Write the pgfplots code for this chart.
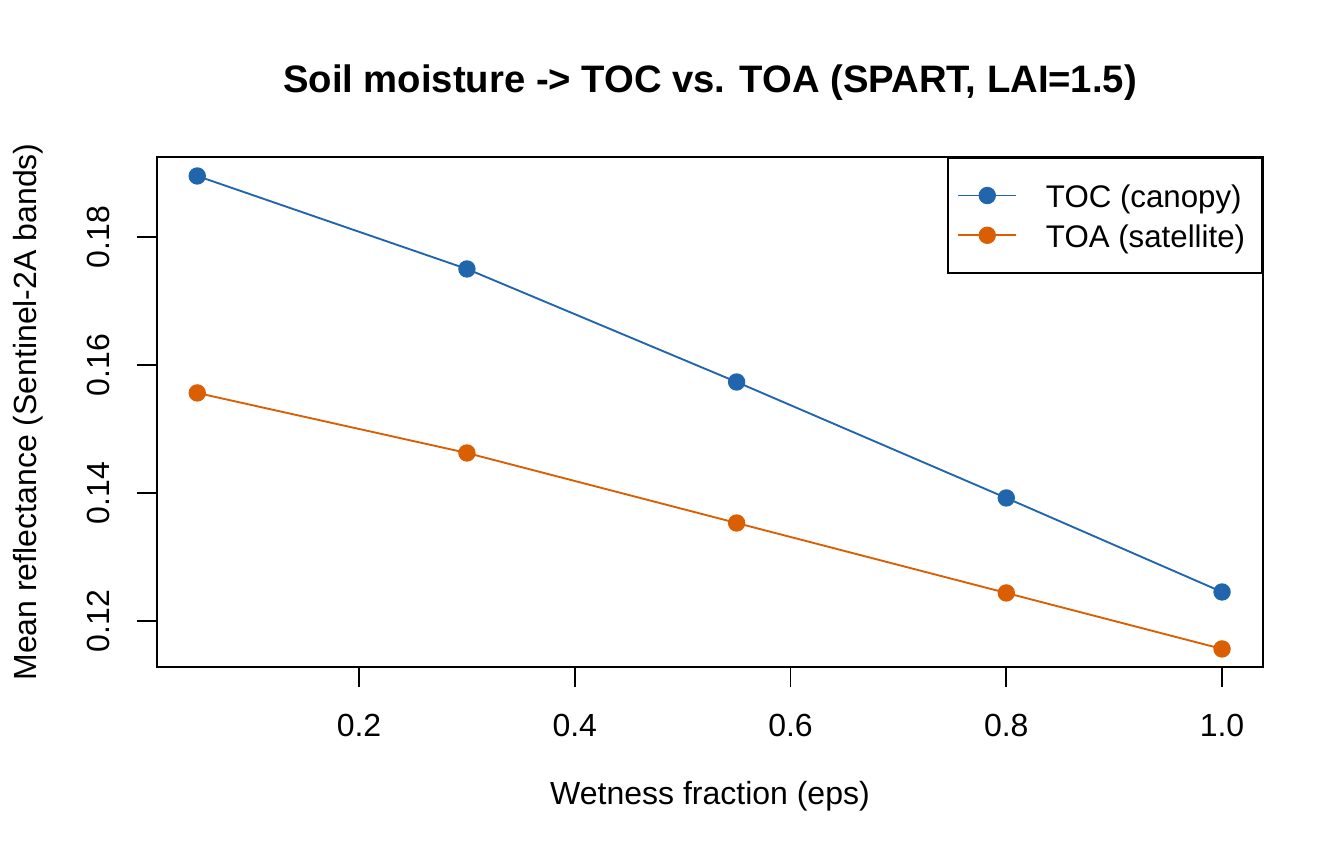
\documentclass[border=0pt]{standalone}
\usepackage{fontspec}
\setmainfont{Liberation Sans}
\usepackage{pgfplots}
\pgfplotsset{compat=1.18}
\definecolor{tocblue}{HTML}{2166AC}
\definecolor{toaorange}{HTML}{D95F02}
\begin{document}
\begin{tikzpicture}[x=0.4pt,y=0.4pt]
\path[use as bounding box] (0,0) rectangle (1344,864);
\begin{axis}[
  at={(62.8pt,78.8pt)}, anchor=south west,
  scale only axis, width=442.4pt, height=204pt,
  xmin=0.0127, xmax=1.038, ymin=0.11281, ymax=0.1925,
  axis line style={line width=0.75pt},
  tick style={line width=0.75pt, black},
  tick align=outside, major tick length=8pt,
  xtick pos=bottom, ytick pos=left,
  xtick={0.2,0.4,0.6,0.8,1.0}, xticklabels={0.2,0.4,0.6,0.8,1.0},
  ytick={0.12,0.14,0.16,0.18}, yticklabels={0.12,0.14,0.16,0.18},
  /pgf/number format/assume math mode=true,
  tick label style={font=\fontsize{12.8}{15}\selectfont},
  xticklabel style={anchor=base, yshift=-20pt},
  yticklabel style={xshift=-11.2pt, rotate=90, anchor=base},
  legend style={at={(rel axis cs:1,1)}, anchor=north east, draw=black, line width=0.75pt,
     font=\fontsize{12.5}{15}\selectfont, cells={anchor=west}, row sep=3pt, column sep=11.5pt,
     inner xsep=3.6pt, inner ysep=8.6pt, nodes={inner sep=0pt}},
  legend image code/.code={\draw[#1, line width=0.75pt, mark repeat=2, mark phase=2] plot coordinates {(0pt,0pt) (11.6pt,0pt) (23.2pt,0pt)};},
  every axis plot/.append style={line width=0.75pt},
]
\addplot[color=tocblue, mark=*, mark size=3.1pt, mark options={solid, fill=tocblue, draw=tocblue}]
  coordinates {(0.05,0.18953) (0.30,0.17500) (0.55,0.15734) (0.80,0.13922) (1.00,0.12453)};
\addlegendentry{\rule[-0.4pt]{0pt}{11.8pt}TOC (canopy)\kern3.2pt\rule{0pt}{1pt}}
\addplot[color=toaorange, mark=*, mark size=3.1pt, mark options={solid, fill=toaorange, draw=toaorange}]
  coordinates {(0.05,0.15563) (0.30,0.14625) (0.55,0.13531) (0.80,0.12438) (1.00,0.11563)};
\addlegendentry{\rule[-0.4pt]{0pt}{11.8pt}TOA (satellite)\kern3.2pt\rule{0pt}{1pt}}
\end{axis}
\node[anchor=base, font=\bfseries\fontsize{15.3}{18}\selectfont] at (710,771.3) {Soil moisture -> TOC vs. TOA (SPART, LAI=1.5)};
\node[anchor=base, font=\fontsize{12.8}{15}\selectfont] at (710,59.7) {Wetness fraction (eps)};
\node[anchor=base, rotate=90, font=\fontsize{12.8}{15}\selectfont] at (36,452) {Mean reflectance (Sentinel-2A bands)};
\end{tikzpicture}
\end{document}
